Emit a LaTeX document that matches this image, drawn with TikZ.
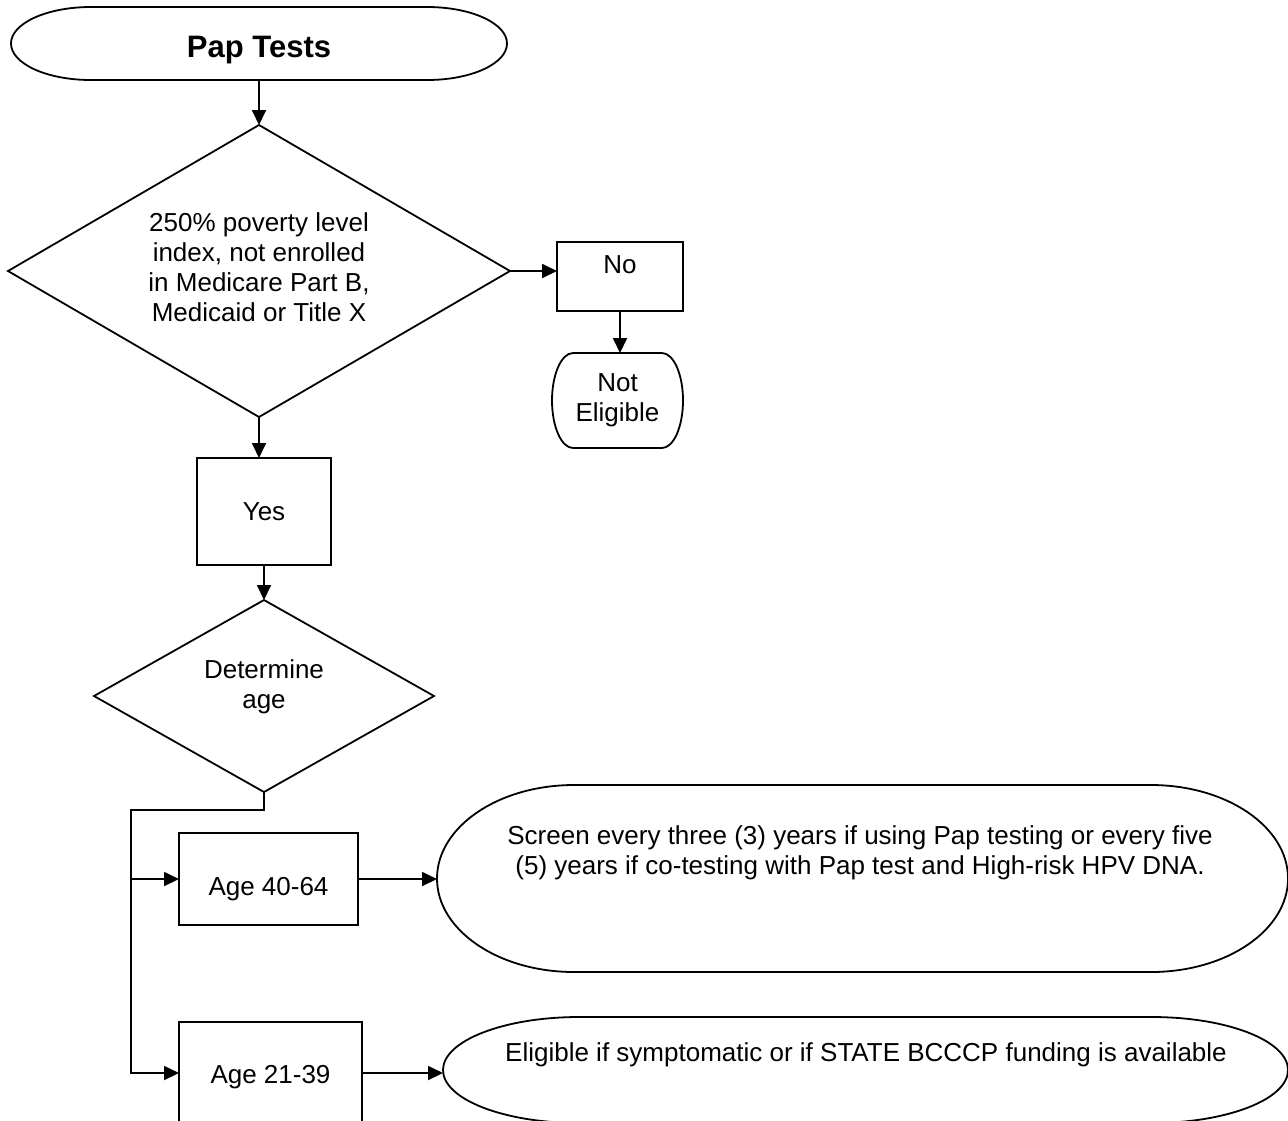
\documentclass[tikz,border=0pt]{standalone}
\usepackage{fontspec}
\setmainfont{Liberation Sans}
\usetikzlibrary{shapes.geometric, arrows.meta, calc}

% terminator outline round a named (undrawn) node
\newcommand{\termshape}[1]{%
  \draw[outline] let \p1=(#1.south west), \p2=(#1.north east) in
    ({\x1+0.161*(\x2-\x1)},\y2) -- ({\x2-0.161*(\x2-\x1)},\y2)
    arc[start angle=90, end angle=-90, x radius={0.161*(\x2-\x1)}, y radius={(\y2-\y1)/2}]
    -- ({\x1+0.161*(\x2-\x1)},\y1)
    arc[start angle=270, end angle=90, x radius={0.161*(\x2-\x1)}, y radius={(\y2-\y1)/2}]
    -- cycle;}

\begin{document}
\begin{tikzpicture}[
    x=0.5pt, y=-0.5pt,
    every node/.style={font=\fontsize{13pt}{15pt}\selectfont},
    outline/.style={draw, line width=0.9pt},
    terminal/.style={rectangle, inner sep=0pt, outer sep=0pt, align=center},
    process/.style={draw, rectangle, line width=0.9pt, inner sep=0pt, outer sep=0pt, align=center},
    decision/.style={draw, diamond, line width=0.9pt, inner sep=0pt, outer sep=0pt},
    txt/.style={align=center, inner sep=0pt},
    connector/.style={-{Triangle[length=7.5pt, width=7pt]}, line width=0.9pt}
]
    \useasboundingbox (0,0) rectangle (1288,1120);

    % Start
    \node[terminal, minimum width=248pt, minimum height=36.5pt, text height=16.8pt, text depth=3.3pt,
          font=\fontsize{15.5pt}{18pt}\selectfont\bfseries] (start) at (259,43.5) {Pap Tests};
    \termshape{start}

    % Income check
    \node[decision, minimum width=251pt, minimum height=146pt] (elig) at (259,271) {};
    \node[txt] (elig-text) at (259,267.5) {250\% poverty level\\index, not enrolled\\in Medicare Part B,\\Medicaid or Title X};

    \node[process, minimum width=63pt, minimum height=34.5pt, text height=9.3pt, text depth=12.5pt] (no) at (620,276.5) {No};
    \node[terminal, minimum width=65.5pt, minimum height=47.5pt] (notelig) at (617.5,400.5) {Not\\Eligible};
    \termshape{notelig}

    \node[process, minimum width=67pt, minimum height=53.5pt] (yes) at (264,511.5) {Yes};

    % Age check
    \node[decision, minimum width=170pt, minimum height=96pt] (age) at (264,696) {};
    \node[txt] (age-text) at (264,687) {Determine\\age};

    \node[process, minimum width=89.5pt, minimum height=46pt, text height=18.8pt, text depth=2.7pt] (a40) at (268.5,879) {Age 40-64};
    \node[process, minimum width=91.5pt, minimum height=51pt, text height=13.3pt, text depth=2.7pt] (a21) at (270.5,1073) {Age 21-39};

    % Outcomes
    \node[terminal, minimum width=425.5pt, minimum height=93.5pt] (screen) at (862.5,878.5) {};
    \termshape{screen}
    \node[txt] (screen-text) at (860,853) {Screen every three (3) years if using Pap testing or every five\\(5) years if co-testing with Pap test and High-risk HPV DNA.};

    \node[terminal, minimum width=422.5pt, minimum height=53pt] (maybe) at (865.5,1070) {};
    \termshape{maybe}
    \node[txt] (maybe-text) at (866,1055) {Eligible if symptomatic or if STATE BCCCP funding is available};

    % Connectors
    \coordinate (split) at (131,810);
    \draw[connector] (start.south) -- (elig.north);
    \draw[connector] (elig.east) -- (elig.east -| no.west);
    \draw[connector] (no.south) -- (no.south |- notelig.north);
    \draw[connector] (elig.south) -- (elig.south |- yes.north);
    \draw[connector] (yes.south) -- (age.north);
    \draw[connector] (age.south) |- (split) |- (a40.west);
    \draw[connector] (split) |- (a21.west);
    \draw[connector] (a40.east) -- (a40.east -| screen.west);
    \draw[connector] (a21.east) -- (a21.east -| maybe.west);

\end{tikzpicture}
\end{document}
